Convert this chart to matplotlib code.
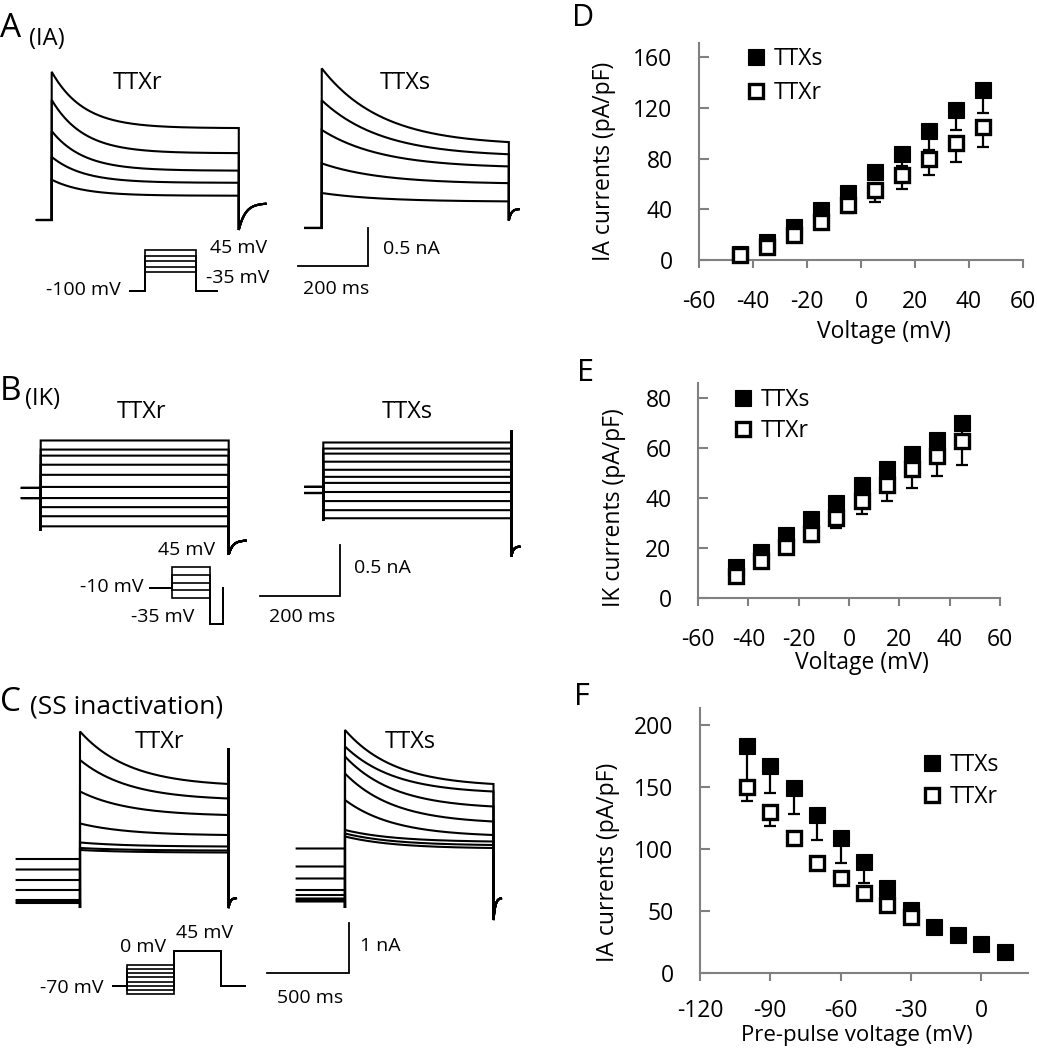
import numpy as np
import matplotlib
matplotlib.use('Agg')
import matplotlib.pyplot as plt
from matplotlib.lines import Line2D

# ---------------- I-V / inactivation data (pA/pF) ----------------
iv_voltage = [-45, -35, -25, -15, -5, 5, 15, 25, 35, 45]
ia_ttxs = [5, 14.4, 26.3, 39.5, 53, 69.7, 84, 102, 118.4, 134]
ia_ttxs_sem = [2, 3, 4, 5, 6, 6, 10, 15, 16, 18]
ia_ttxr = [4, 10.5, 19.7, 30.2, 43.4, 55.2, 67, 79.5, 92, 105]
ia_ttxr_sem = [2, 3, 4, 5, 6, 9.7, 11, 12.5, 14.4, 16]

ik_ttxs = [12.6, 18.5, 25.2, 31.6, 38, 45.3, 51.8, 57.6, 63.4, 70]
ik_ttxs_sem = [2, 2, 3, 3, 4, 4, 5, 5, 6, 6]
ik_ttxr = [9, 15, 20.6, 25.7, 32, 38.8, 45.4, 51.7, 57, 62.8]
ik_ttxr_sem = [2, 2, 3, 3, 4, 5, 6.4, 7.7, 8, 9.5]

ss_prepulse_s = [-100, -90, -80, -70, -60, -50, -40, -30, -20, -10, 0, 10]
ss_ttxs = [183, 167, 149, 127.5, 108.7, 90, 68.5, 51, 37.5, 30.8, 23.6, 17.4]
ss_ttxs_sem = [30, 21.6, 20.6, 20, 19.7, 17, 8, 5, 3, 3, 3, 3]
ss_prepulse_r = [-100, -90, -80, -70, -60, -50, -40, -30]
ss_ttxr = [150.3, 130, 108.7, 89, 76.5, 64.4, 55, 45.6]
ss_ttxr_sem = [11.7, 11.4, 5, 4, 3, 3, 3, 3]

# ---------------- current traces (nA, ms) ----------------
# A: IA, peak and end-of-pulse current per step, decay tau
ia_r_peak = [1.95, 1.58, 1.17, 0.83, 0.53]
ia_r_end = [1.21, 0.88, 0.65, 0.49, 0.32]
ia_r_tau = 90
ia_s_peak = [2.10, 1.68, 1.29, 0.85, 0.46]
ia_s_end = [1.13, 0.97, 0.81, 0.59, 0.35]
ia_s_tau = 170
ia_pulse_ms = 530
ia_r_tail = [-0.13, 0.22]
ia_s_tail = [0.10, 0.25]

# B: IK, sustained level per step
ik_r_level = [0.52, 0.43, 0.37, 0.28, 0.18, 0.06, -0.05, -0.14, -0.23, -0.33]
ik_r_hold = [0.05, -0.05]
ik_s_level = [0.47, 0.41, 0.36, 0.28, 0.20, 0.13, 0.07, -0.02, -0.11, -0.20, -0.28]
ik_s_hold = [0.03, -0.03]
ik_pulse_ms = 470
ik_r_tail = [-0.61, -0.47]
ik_s_tail = [-0.66, -0.56]
ik_s_spike = 0.59

# C: steady-state inactivation, prepulse current, test peak and end current
ss_r_pre = [0.04, 0.07, 0.10, 0.30, 0.50, 0.71, 0.92]
ss_r_peak = [3.47, 2.90, 2.27, 1.63, 1.25, 1.14, 1.10]
ss_r_end = [2.42, 2.13, 1.80, 1.40, 1.17, 1.09, 1.05]
ss_s_pre = [0.07, 0.10, 0.13, 0.20, 0.30, 0.53, 0.77, 1.13]
ss_s_peak = [3.50, 3.17, 2.97, 2.63, 2.10, 1.50, 1.43, 1.37]
ss_s_end = [2.42, 2.27, 1.97, 1.67, 1.40, 1.27, 1.20, 1.14]
ss_tau = 300
ss_pulse_ms = 900
ss_r_spike = 3.14
ss_r_tail = [-0.06, 0.14]
ss_s_tail = [-0.30, 0.14]

# voltage protocols (mV, ms; schematic)
protA_hold = -100
protA_steps = [-35, -15, 5, 25, 45]
protA_times = [160, 530, 210]
protB_hold = -10
protB_steps = [-35, -15, 5, 25, 45]
protB_post = -100
protB_times = [266, 470, 156]
protC_hold = -70
protC_pre = [0, -14, -28, -42, -56, -70, -84, -98]
protC_test = 45
protC_times = [300, 1000, 1000, 500]

# ---------------- figure ----------------
plt.rcParams['font.family'] = ['Open Sans', 'DejaVu Sans']
plt.rcParams['axes.unicode_minus'] = False
W, H = 1037, 1050
fig = plt.figure(figsize=(W / 100, H / 100), dpi=100)
GRAY = '#808080'


def ptext(x, y, s, size=14, ha='center', va='center', **kw):
    fig.text(x / W, 1 - y / H, s, fontsize=size, ha=ha, va=va, **kw)


def scaled_axes(box, origin_px, sx, sy):
    x0, y0, x1, y1 = box
    ax = fig.add_axes([x0 / W, 1 - y1 / H, (x1 - x0) / W, (y1 - y0) / H])
    ox, oy = origin_px
    ax.set_xlim((x0 - ox) / sx, (x1 - ox) / sx)
    ax.set_ylim((oy - y1) / sy, (oy - y0) / sy)
    ax.axis('off')
    return ax


def trace(ax, t_off, i_off, pre_level, pre_dur, onset_low, t, body, spike, tail, tail_dur, lw=1.5):
    tt = np.linspace(0, tail_dur, 40)
    tail_y = tail[0] + (tail[1] - tail[0]) * (1 - np.exp(-tt / (tail_dur / 4)))
    end_t = t[-1]
    x = np.concatenate([[-pre_dur, 0, 0], t, [end_t], end_t + tt])
    y = np.concatenate([[pre_level, pre_level, onset_low], body, [spike], tail_y])
    ax.plot(x + t_off, y + i_off, color='black', lw=lw, clip_on=False,
            solid_joinstyle='miter')


def decay(peak, end, tau, dur):
    t = np.linspace(0, dur, 300)
    f = (np.exp(-t / tau) - np.exp(-dur / tau)) / (1 - np.exp(-dur / tau))
    return t, end + (peak - end) * f


def scalebar(ax, t0, i0, ms, na):
    ax.plot([t0, t0 + ms, t0 + ms], [i0, i0, i0 + na], color='black', lw=1.3,
            clip_on=False, solid_joinstyle='miter')


# ---- Panel A traces ----
axA = scaled_axes((0, 55, 520, 320), (51.7, 220), 0.353, 76)
for pk, en in zip(ia_r_peak, ia_r_end):
    t, b = decay(pk, en, ia_r_tau, ia_pulse_ms)
    trace(axA, 0, 0, 0, 42, 0, t, b, en, ia_r_tail, 76)
for pk, en in zip(ia_s_peak, ia_s_end):
    t, b = decay(pk, en, ia_s_tau, ia_pulse_ms)
    trace(axA, 765, -0.105, 0, 47, 0, t, b, en, ia_s_tail, 28)
scalebar(axA, 697, -0.601, 200, 0.5)

pA = scaled_axes((110, 230, 240, 305), (130, 262.6), 0.0962, 0.28)
h, s, p = protA_times
for v in protA_steps:
    pA.plot([0, h, h, h + s, h + s, h + s + p], [protA_hold, protA_hold, v, v, protA_hold, protA_hold],
            color='black', lw=1.2, clip_on=False, solid_joinstyle='miter')

# ---- Panel B traces ----
axB = scaled_axes((0, 420, 520, 640), (40.7, 493), 0.4, 101)
for k, lv in enumerate(ik_r_level):
    t = np.array([0, ik_pulse_ms])
    trace(axB, 0, 0, ik_r_hold[k % 2], 47, -0.37, t, [lv, lv], lv, ik_r_tail, 42)
for k, lv in enumerate(ik_s_level):
    t = np.array([0, ik_pulse_ms])
    trace(axB, 706.5, 0.03, ik_s_hold[k % 2], 45, -0.3, t, [lv, lv], ik_s_spike, ik_s_tail, 20)
scalebar(axB, 548, -1.017, 200, 0.5)

pB = scaled_axes((140, 555, 240, 635), (150, 584.5), 0.0815, 0.395)
h, s, p = protB_times
for v in protB_steps:
    pB.plot([0, h, h, h + s, h + s, h + s + p, h + s + p],
            [protB_hold, protB_hold, v, v, protB_post, protB_post, protB_hold],
            color='black', lw=1.2, clip_on=False, solid_joinstyle='miter')

# ---- Panel C traces ----
axC = scaled_axes((0, 720, 520, 1050), (80, 905), 0.165, 50)
for pr, pk, en in zip(ss_r_pre, ss_r_peak, ss_r_end):
    t, b = decay(pk, en, ss_tau, ss_pulse_ms)
    trace(axC, 0, 0, pr, 384, ss_r_tail[0], t, b, ss_r_spike, ss_r_tail, 45)
for pr, pk, en in zip(ss_s_pre, ss_s_peak, ss_s_end):
    t, b = decay(pk, en, ss_tau, ss_pulse_ms)
    trace(axC, 1606, 0, pr, 293, ss_r_tail[0], t, b, en, ss_s_tail, 45)
scalebar(axC, 1131.5, -1.354, 500, 1.0)

pC = scaled_axes((100, 930, 260, 1005), (112.7, 964.6), 0.0473, 0.303)
h, p, s, q = protC_times
for v in protC_pre:
    pC.plot([0, h, h, h + p, h + p, h + p + s, h + p + s, h + p + s + q],
            [protC_hold, protC_hold, v, v, protC_test, protC_test, protC_hold, protC_hold],
            color='black', lw=1.2, clip_on=False, solid_joinstyle='miter')

# ---- left texts ----
ptext(0, 37, 'A', size=24, ha='left', va='baseline')
ptext(29, 45, '(IA)', size=17, ha='left', va='baseline')
ptext(0, 400, 'B', size=24, ha='left', va='baseline')
ptext(25, 405, '(IK)', size=17, ha='left', va='baseline')
ptext(0, 711, 'C', size=24, ha='left', va='baseline')
ptext(30, 713, '(SS inactivation)', size=19, ha='left', va='baseline')

for x, y, s in [(138, 83, 'TTXr'), (405, 83, 'TTXs'), (142, 412, 'TTXr'), (407, 412, 'TTXs'),
                (160, 742, 'TTXr'), (410, 742, 'TTXs')]:
    ptext(x, y, s, size=17)

for x, y, s in [(83, 290, '-100 mV'), (239, 248, '45 mV'), (238, 278, '-35 mV'),
                (411, 249, '0.5 nA'), (336, 289, '200 ms'),
                (187, 550, '45 mV'), (112, 587, '-10 mV'), (163, 617, '-35 mV'),
                (382, 568, '0.5 nA'), (302, 617, '200 ms'),
                (72, 988, '-70 mV'), (143, 947, '0 mV'), (205, 933, '45 mV'),
                (380, 946, '1 nA'), (310, 998, '500 ms')]:
    ptext(x, y, s, size=14)


# ---------------- right panels ----------------
def iv_axes(left, right, bottom_px, top_px, xlim, ylim, xticks, yticks, xpad=15.5):
    ax = fig.add_axes([left / W, 1 - bottom_px / H, (right - left) / W, (bottom_px - top_px) / H])
    ax.set_xlim(*xlim)
    ax.set_ylim(*ylim)
    ax.set_xticks(xticks)
    ax.set_yticks(yticks)
    for sp in ['top', 'right']:
        ax.spines[sp].set_visible(False)
    for sp in ['left', 'bottom']:
        ax.spines[sp].set_color(GRAY)
        ax.spines[sp].set_linewidth(1.5)
    ax.tick_params(axis='y', direction='in', length=7, width=1.5, color=GRAY,
                   labelcolor='black', pad=19, labelsize=16.5)
    ax.tick_params(axis='x', direction='out', length=6, width=1.5, color=GRAY,
                   labelcolor='black', pad=xpad, labelsize=16.5)
    ax.patch.set_alpha(0)
    return ax


def draw_series(ax, x, y, sem, filled):
    ax.errorbar(x, y, yerr=[sem, np.zeros(len(sem))], fmt='none', ecolor='black',
                elinewidth=1.6, capsize=4.5, capthick=1.6, zorder=2, clip_on=False)
    if filled:
        ax.plot(x, y, ls='none', marker='s', ms=11.6, mfc='black', mec='black', mew=0.8,
                zorder=3, clip_on=False)
    else:
        ax.plot(x, y, ls='none', marker='s', ms=9.8, mfc='white', mec='black', mew=2.4,
                zorder=4, clip_on=False)


def add_legend(ax, x_px, y_px, spacing):
    hs = [Line2D([], [], ls='none', marker='s', ms=11.6, mfc='black', mec='black', mew=0.8),
          Line2D([], [], ls='none', marker='s', ms=9.8, mfc='white', mec='black', mew=2.4)]
    ax.legend(hs, ['TTXs', 'TTXr'], loc='upper left', bbox_to_anchor=(x_px / W, 1 - y_px / H),
              bbox_transform=fig.transFigure, frameon=False, borderpad=0, borderaxespad=0,
              handlelength=0.8, handletextpad=0.35, labelspacing=spacing, fontsize=16.5)


axD = iv_axes(699, 1023, 260, 43, (-60, 60), (0, 171.3), range(-60, 61, 20), range(0, 161, 40))
draw_series(axD, iv_voltage, ia_ttxs, ia_ttxs_sem, True)
draw_series(axD, iv_voltage, ia_ttxr, ia_ttxr_sem, False)
add_legend(axD, 747, 47, 0.45)

axE = iv_axes(698, 1000, 598.3, 383, (-60, 60), (0, 86.1), range(-60, 61, 20), range(0, 81, 20))
draw_series(axE, iv_voltage, ik_ttxs, ik_ttxs_sem, True)
draw_series(axE, iv_voltage, ik_ttxr, ik_ttxr_sem, False)
add_legend(axE, 734, 388, 0.3)

axF = iv_axes(700, 1028, 973.3, 708, (-120, 20), (0, 213.7), range(-120, 1, 30), range(0, 201, 50),
              xpad=12.5)
draw_series(axF, ss_prepulse_s, ss_ttxs, ss_ttxs_sem, True)
draw_series(axF, ss_prepulse_r, ss_ttxr, ss_ttxr_sem, False)
add_legend(axF, 923, 753, 0.37)

# axis labels and panel letters
ptext(604, 161, 'IA currents (pA/pF)', size=16.5, rotation=90)
ptext(884, 332, 'Voltage (mV)', size=16.5)
ptext(614, 508, 'IK currents (pA/pF)', size=16.5, rotation=90)
ptext(862, 663, 'Voltage (mV)', size=16.5)
ptext(608, 862, 'IA currents (pA/pF)', size=16.5, rotation=90)
ptext(857, 1036, 'Pre-pulse voltage (mV)', size=16)
ptext(583, 18, 'D', size=22)
ptext(586, 373, 'E', size=22)
ptext(582, 697, 'F', size=22)

fig.savefig('out.png', dpi=100)
